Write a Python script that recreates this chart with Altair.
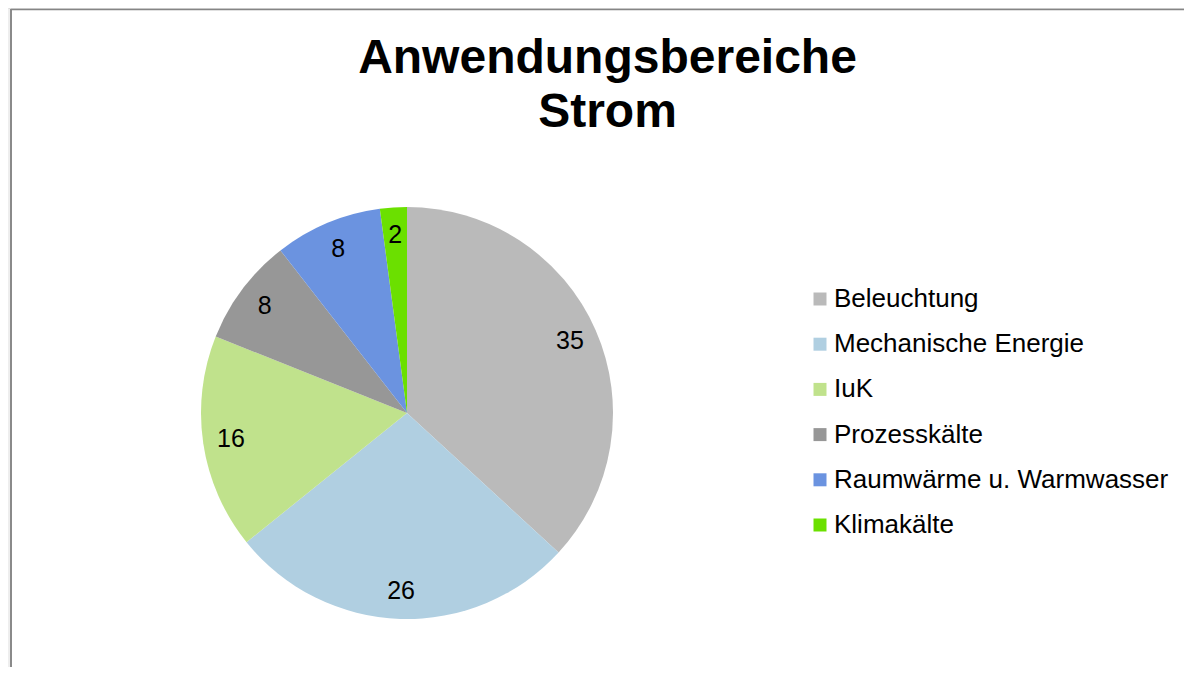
import altair as alt
import pandas as pd

TITLE_LINES = ["Anwendungsbereiche", "Strom"]
CATEGORIES = ["Beleuchtung", "Mechanische Energie", "IuK", "Prozesskälte",
              "Raumwärme u. Warmwasser", "Klimakälte"]
VALUES = [35, 26, 16, 8, 8, 2]
COLORS = ["#bababa", "#b0cfe1", "#c0e28c", "#979797", "#6b93e0", "#6be000"]

FONT = "Liberation Sans"
W, H = 1176, 659
CX, CY, R = 399, 405, 206

df = pd.DataFrame({
    "category": CATEGORIES,
    "value": VALUES,
    "idx": list(range(len(CATEGORIES))),
})

color = alt.Color(
    "category:N",
    sort=CATEGORIES,
    scale=alt.Scale(domain=CATEGORIES, range=COLORS),
    legend=alt.Legend(
        title=None, orient="none", legendX=799, legendY=278,
        symbolType="square", symbolSize=169, symbolStrokeWidth=0,
        labelFont=FONT, labelFontSize=26, labelColor="#000000",
        labelOffset=1, rowPadding=19.2, padding=0, labelLimit=500,
    ),
)

base = alt.Chart(df).encode(
    theta=alt.Theta("value:Q", stack=True),
    order=alt.Order("idx:Q"),
)

pie = base.mark_arc(radius=R).encode(
    color=color, x=alt.value(CX), y=alt.value(CY)
)

labels = base.mark_text(
    radius=178, font=FONT, fontSize=25, color="#000000",
    align="center", baseline="middle",
).encode(text="value:Q", x=alt.value(CX), y=alt.value(CY))

title = alt.Chart(pd.DataFrame({"t": [0]})).mark_text(
    text=TITLE_LINES, font=FONT, fontSize=48, fontWeight="bold",
    color="#000000", align="center", baseline="alphabetic", lineHeight=54,
).encode(x=alt.value(599.5), y=alt.value(65))

one = pd.DataFrame({"a": [0]})
strip = alt.Chart(one).mark_rect(color="#eeeeee").encode(
    x=alt.value(0), x2=alt.value(2), y=alt.value(1), y2=alt.value(H)
)
vline = alt.Chart(one).mark_rule(color="#8a8a8a", strokeWidth=2).encode(
    x=alt.value(3), y=alt.value(1), y2=alt.value(H)
)
hline = alt.Chart(one).mark_rule(color="#858585", strokeWidth=1.5).encode(
    x=alt.value(3), x2=alt.value(W), y=alt.value(1.5)
)

chart = alt.layer(strip, vline, hline, pie, labels, title).properties(
    width=W, height=H,
    autosize=alt.AutoSizeParams(type="none"),
    padding=0,
).configure_view(stroke=None).configure(background="#ffffff")

chart.save("out.html", embed_options={"renderer": "svg", "actions": False})
